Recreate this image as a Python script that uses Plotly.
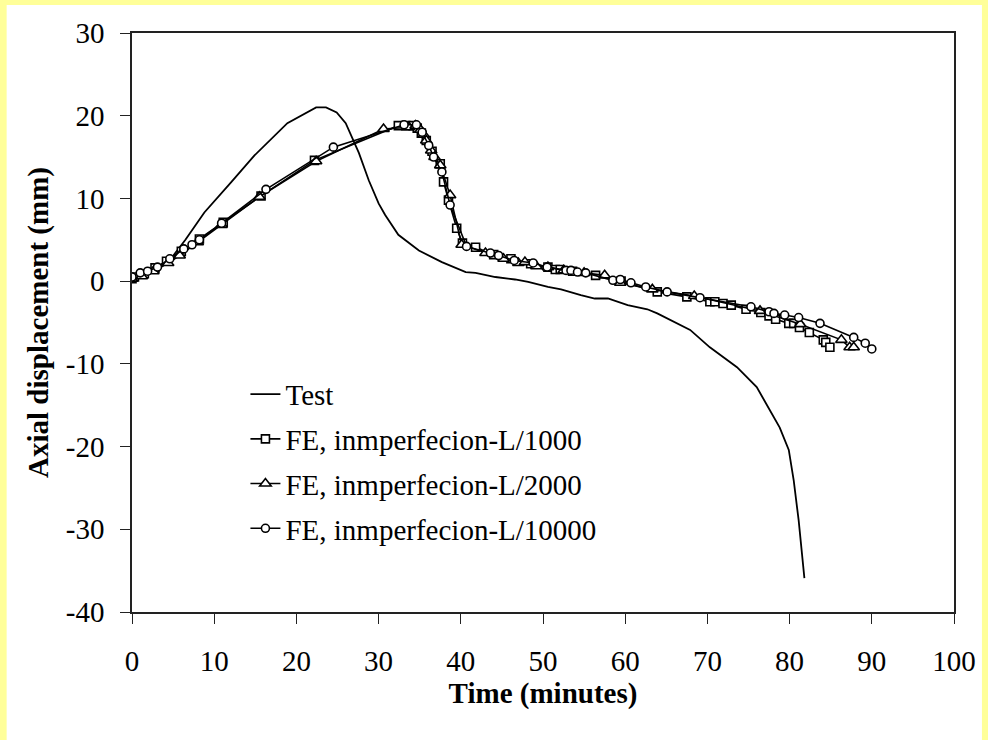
import plotly.graph_objects as go

# ---- data ----
test_x = [0, 2.0, 4.0, 4.8, 6.5, 8.8, 12.1, 14.9, 18.9, 22.4, 23.6, 24.9, 26.0, 26.6, 27.6,
          28.8, 30.0, 30.8, 32.4, 34.9, 37.7, 40.6, 41.8, 44.2, 46.6, 48.2, 50.6, 52.2, 54.6,
          56.3, 57.9, 60.3, 62.7, 63.9, 67.9, 70.3, 73.6, 76.0, 77.6, 78.8, 79.9, 80.5, 81.1, 81.8]
test_y = [0.4, 1.0, 2.0, 2.8, 5.0, 8.3, 12.0, 15.2, 19.1, 21.0, 21.0, 20.4, 19.1, 17.8, 15.5,
          12.2, 9.4, 8.0, 5.6, 3.7, 2.3, 1.1, 1.0, 0.5, 0.2, -0.1, -0.7, -1.0, -1.7,
          -2.1, -2.1, -2.9, -3.4, -3.9, -5.9, -8.0, -10.4, -12.8, -15.6, -17.7, -20.4, -24.1, -28.9, -35.9]

fe1000_x = [0, 0.3, 1.5, 2.8, 4.2, 6.0, 8.2, 11.1, 15.7, 22.2, 32.4, 33.3, 34.2, 34.7, 35.2,
            35.8, 36.5, 37.5, 37.9, 38.5, 39.5, 40.2, 41.8, 44.0, 46.1, 48.5, 50.6, 51.5, 52.1,
            53.6, 56.4, 59.5, 63.9, 67.5, 70.3, 70.9, 71.9, 72.9, 74.7, 76.5, 77.5, 78.3, 79.9,
            80.5, 81.2, 82.4, 84.1, 84.4, 84.9]
fe1000_y = [0.3, 0.5, 0.9, 1.6, 2.4, 3.6, 5.1, 7.1, 10.3, 14.6, 18.8, 18.8, 18.8, 18.5, 17.9,
            17.0, 15.7, 14.2, 12.0, 9.8, 6.4, 4.6, 4.1, 3.2, 2.7, 2.1, 1.7, 1.4, 1.4,
            1.2, 0.7, 0.0, -1.3, -1.9, -2.5, -2.5, -2.7, -2.9, -3.4, -3.8, -4.2, -4.6, -5.1,
            -5.1, -5.6, -6.2, -7.1, -7.4, -8.0]

fe2000_x = [0, 1.2, 2.6, 4.4, 5.8, 8.0, 10.9, 15.5, 22.4, 30.6, 33.7, 34.5, 35.1, 35.5, 35.8,
            36.4, 36.8, 37.5, 38.7, 40.1, 43.0, 45.2, 47.0, 47.8, 49.2, 50.6, 52.5, 55.0, 57.5,
            59.4, 63.3, 68.4, 76.4, 81.3, 86.3, 87.3, 87.8]
fe2000_y = [0.3, 0.6, 1.2, 2.2, 3.1, 4.7, 6.8, 10.2, 14.5, 18.4, 18.6, 18.8, 18.3, 17.7, 17.0,
            15.8, 15.0, 14.0, 10.4, 4.4, 3.4, 2.7, 2.2, 2.3, 1.8, 1.7, 1.3, 1.0, 0.7,
            -0.2, -1.0, -1.8, -3.6, -5.2, -7.1, -8.0, -8.0]

fe10000_x = [0, 1.0, 1.9, 3.1, 4.6, 6.3, 7.3, 8.2, 10.9, 16.3, 24.5, 33.1, 34.6, 35.3, 36.1,
             36.7, 37.7, 38.7, 40.7, 43.6, 44.6, 46.5, 48.8, 50.5, 52.8, 53.4, 54.2, 55.2, 58.5,
             59.4, 60.7, 62.5, 65.1, 69.1, 75.3, 77.5, 78.1, 79.4, 81.1, 83.7, 87.8, 89.2, 90.0]
fe10000_y = [0.5, 1.0, 1.2, 1.7, 2.7, 3.9, 4.4, 5.0, 7.0, 11.1, 16.2, 18.9, 18.9, 18.0, 16.4,
             15.0, 13.2, 9.2, 4.2, 3.4, 3.1, 2.5, 2.2, 1.7, 1.3, 1.3, 1.1, 1.0, 0.1,
             0.2, -0.2, -0.7, -1.3, -2.0, -3.1, -3.7, -3.9, -4.1, -4.4, -5.1, -6.8, -7.5, -8.2]

series_names = ["Test", "FE, inmperfecion-L/1000", "FE, inmperfecion-L/2000",
                "FE, inmperfecion-L/10000"]
x_ticks = [0, 10, 20, 30, 40, 50, 60, 70, 80, 90, 100]
y_ticks = [-40, -30, -20, -10, 0, 10, 20, 30]
y_tick_text = ["-40", "-30", "-20", "-10", "0", "10", "20", "30"]

FONT = "Liberation Serif, Times New Roman, serif"
FS = 29

fig = go.Figure()
fig.add_trace(go.Scatter(x=test_x, y=test_y, mode="lines", name=series_names[0],
                         line=dict(color="black", width=1.8), legendgroup="a"))
mk = dict(color="white", line=dict(color="black", width=1.6))
fig.add_trace(go.Scatter(x=fe1000_x, y=fe1000_y, mode="lines+markers", name=series_names[1],
                         line=dict(color="black", width=1.6), legendgroup="b",
                         marker=dict(symbol="square", size=8, **mk)))
fig.add_trace(go.Scatter(x=fe2000_x, y=fe2000_y, mode="lines+markers", name=series_names[2],
                         line=dict(color="black", width=1.6), legendgroup="c",
                         marker=dict(symbol="triangle-up", size=10, **mk)))
fig.add_trace(go.Scatter(x=fe10000_x, y=fe10000_y, mode="lines+markers", name=series_names[3],
                         line=dict(color="black", width=1.6), legendgroup="d",
                         marker=dict(symbol="circle", size=8, **mk)))

# white panel over yellow paper
fig.add_shape(type="rect", xref="paper", yref="paper", x0=-0.1525, x1=1.034,
              y0=-0.25, y1=1.0484, fillcolor="white", line=dict(width=0), layer="below")

axis_common = dict(showline=True, linecolor="#222", linewidth=1.5, mirror=True,
                   ticks="outside", ticklen=10, tickwidth=1.2, tickcolor="#222",
                   showgrid=False, zeroline=False,
                   tickfont=dict(family=FONT, size=FS, color="black"))

fig.update_layout(
    width=988, height=740,
    margin=dict(l=132, r=30, t=33, b=128),
    paper_bgcolor="#FFFF99", plot_bgcolor="white",
    font=dict(family=FONT, size=FS, color="black"),
    xaxis=dict(range=[0, 100], tickvals=x_ticks, ticklabelstandoff=12,
               title=dict(text="Time (minutes)", standoff=0,
                          font=dict(family=FONT, size=FS, weight="bold")),
               **axis_common),
    yaxis=dict(range=[-40, 30], tickvals=y_ticks, ticktext=y_tick_text,
               ticklabelstandoff=10,
               title=dict(text="Axial displacement (mm)", standoff=9,
                          font=dict(family=FONT, size=FS, weight="bold")),
               **axis_common),
    showlegend=True,
    legend=dict(x=0.138, y=0.42, xanchor="left", yanchor="top",
                bgcolor="rgba(0,0,0,0)", tracegroupgap=4,
                font=dict(family=FONT, size=FS)),
)

fig.write_html("out.html")
